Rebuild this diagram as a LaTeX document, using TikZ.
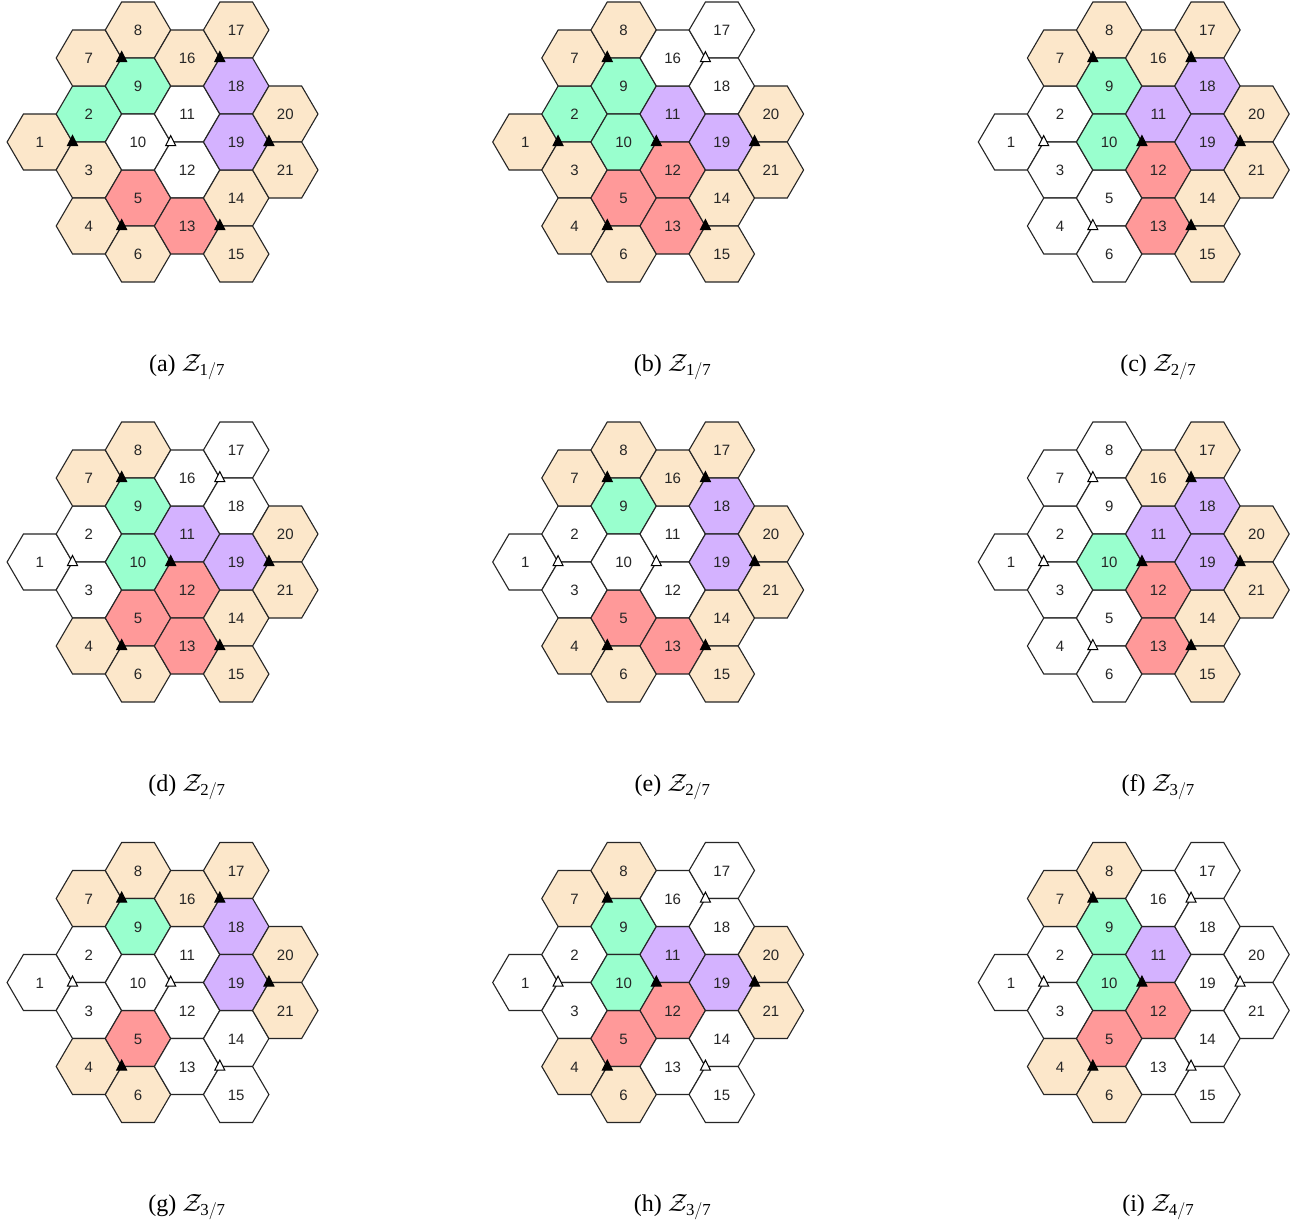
\documentclass[tikz,border=0pt]{standalone}
\usepackage{fontspec}
\setmainfont{Liberation Serif}
\setsansfont{Liberation Sans}
\definecolor{hc0}{RGB}{255,255,255}
\definecolor{hc1}{RGB}{252,231,202}
\definecolor{hc2}{RGB}{153,255,206}
\definecolor{hc3}{RGB}{212,178,255}
\definecolor{hc4}{RGB}{255,153,153}
\definecolor{stc0}{RGB}{255,255,255}
\definecolor{stc1}{RGB}{0,0,0}
\tikzset{
  hexline/.style={draw=black!85, line width=1.1pt, line join=miter},
  celltext/.style={font=\sffamily\fontsize{15}{18}\selectfont, inner sep=0pt, text=black!85},
  sitetri/.style={draw=black, line width=1pt, line join=miter},
  captext/.style={font=\fontsize{24}{28}\selectfont, inner sep=0pt, anchor=base},
}
% #1 x, #2 y, #3 id, #4 caption, #5 cell colours (1..21), #6 site fills (A..G)
\newcommand\hexpanel[6]{%
  \begin{scope}[shift={(#1,#2)}]
    \foreach \n/\c/\k [count=\i] in {1/0/0,2/1/-1,3/1/1,4/1/3,5/2/2,6/2/4,7/1/-3,8/2/-4,9/2/-2,10/2/0,11/3/-1,12/3/1,13/3/3,14/4/2,15/4/4,16/3/-3,17/4/-4,18/4/-2,19/4/0,20/5/-1,21/5/1} {
      \pgfmathtruncatemacro\hcc{{#5}[\i-1]}
      \draw[hexline, fill=hc\hcc] ({(\c-2)*49.1-32.7},{\k*28}) -- ++(16.35,-28) -- ++(32.7,0) -- ++(16.35,28) -- ++(-16.35,28) -- ++(-32.7,0) -- cycle;
      \node[celltext] (#3-\n) at ({(\c-2)*49.1},{\k*28+0.5}) {\n};
    }
    \foreach \s/\sx/\sy [count=\j] in {A/-16.35/-84,B/81.85/-84,C/-65.5/0,D/32.7/0,E/130.9/0,F/-16.35/84,G/81.85/84} {
      \pgfmathtruncatemacro\stc{{#6}[\j-1]}
      \coordinate (#3-s\s) at (\sx,\sy);
      \draw[sitetri, fill=stc\stc] ([shift={(-5,3.6)}]#3-s\s) -- ([shift={(5,3.6)}]#3-s\s) -- ([shift={(0,-6.4)}]#3-s\s) -- cycle;
    }
    \node[captext] (#3-cap) at (49,229) {#4};
  \end{scope}}
\begin{document}
\begin{tikzpicture}[x=1pt,y=-1pt]
\useasboundingbox (0,0) rectangle (1306,1223);
\fill[white] (0,0) rectangle (1306,1223);
\hexpanel{138}{142}{a}{(a) $\mathcal{Z}_{\mathrm{1/7}}$}{1,2,1,1,4,1,1,1,2,0,0,0,4,1,1,1,1,3,3,1,1}{1,1,1,0,1,1,1}
\hexpanel{623.6}{142}{b}{(b) $\mathcal{Z}_{\mathrm{1/7}}$}{1,2,1,1,4,1,1,1,2,2,3,4,4,1,1,0,0,0,3,1,1}{1,0,1,1,1,1,1}
\hexpanel{1109.2}{142}{c}{(c) $\mathcal{Z}_{\mathrm{2/7}}$}{0,0,0,0,0,0,1,1,2,2,3,4,4,1,1,1,1,3,3,1,1}{1,1,0,1,1,0,1}
\hexpanel{138}{562}{d}{(d) $\mathcal{Z}_{\mathrm{2/7}}$}{0,0,0,1,4,1,1,1,2,2,3,4,4,1,1,0,0,0,3,1,1}{1,0,0,1,1,1,1}
\hexpanel{623.6}{562}{e}{(e) $\mathcal{Z}_{\mathrm{2/7}}$}{0,0,0,1,4,1,1,1,2,0,0,0,4,1,1,1,1,3,3,1,1}{1,1,0,0,1,1,1}
\hexpanel{1109.2}{562}{f}{(f) $\mathcal{Z}_{\mathrm{3/7}}$}{0,0,0,0,0,0,0,0,0,2,3,4,4,1,1,1,1,3,3,1,1}{0,1,0,1,1,0,1}
\hexpanel{138}{982.5}{g}{(g) $\mathcal{Z}_{\mathrm{3/7}}$}{0,0,0,1,4,1,1,1,2,0,0,0,0,0,0,1,1,3,3,1,1}{1,1,0,0,1,1,0}
\hexpanel{623.6}{982.5}{h}{(h) $\mathcal{Z}_{\mathrm{3/7}}$}{0,0,0,1,4,1,1,1,2,2,3,4,0,0,0,0,0,0,3,1,1}{1,0,0,1,1,1,0}
\hexpanel{1109.2}{982.5}{i}{(i) $\mathcal{Z}_{\mathrm{4/7}}$}{0,0,0,1,4,1,1,1,2,2,3,4,0,0,0,0,0,0,0,0,0}{1,0,0,1,0,1,0}
\end{tikzpicture}
\end{document}
